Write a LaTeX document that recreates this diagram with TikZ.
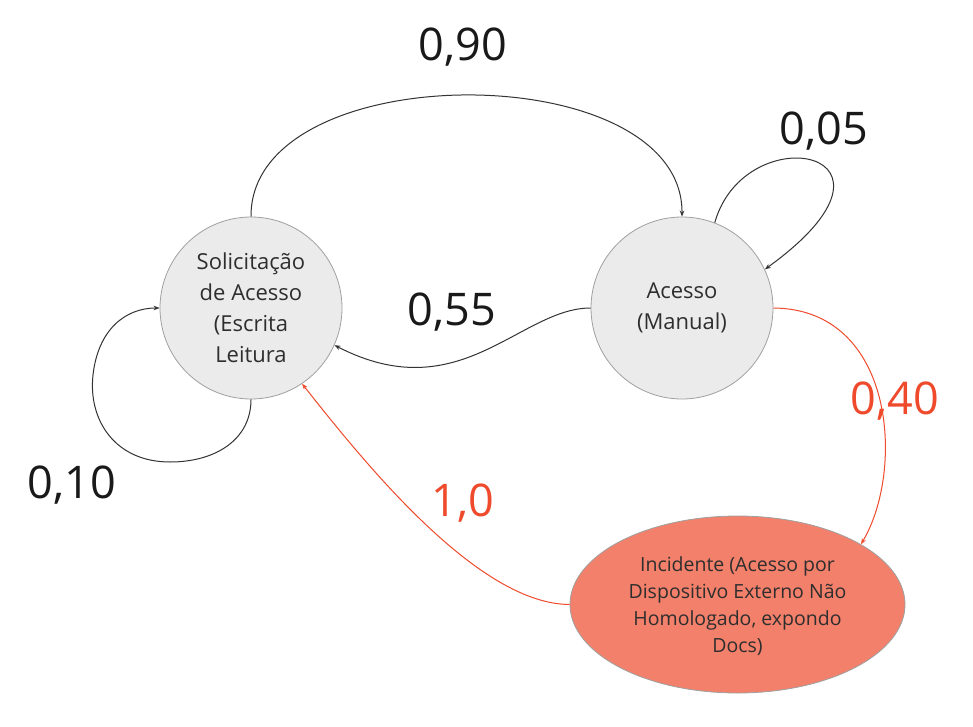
\documentclass[tikz,border=0pt]{standalone}
\usepackage{fontspec}
\setmainfont{Open Sans}
\usetikzlibrary{arrows.meta,shapes.geometric}
\definecolor{nodefill}{HTML}{EBEBEB}
\definecolor{nodeline}{HTML}{A0A0A0}
\definecolor{incfill}{HTML}{F3806A}
\definecolor{redline}{HTML}{EE4A2B}
\definecolor{txt}{HTML}{2E2E2E}
\definecolor{edgeblack}{HTML}{333333}
\tikzset{
  state/.style={circle, draw=nodeline, line width=0.8pt, fill=nodefill, minimum size=182pt, inner sep=0pt, align=center, text=txt, font=\fontsize{22}{31}\selectfont},
  incstate/.style={ellipse, draw=nodeline, line width=0.8pt, fill=incfill, minimum width=335pt, minimum height=177pt, inner sep=0pt},
  inctext/.style={align=center, text=txt, font=\fontsize{19.5}{27}\selectfont, inner sep=0pt},
  blackedge/.style={draw=edgeblack, line width=1pt, -{Stealth[length=6pt,width=4.5pt]}},
  rededge/.style={draw=redline, line width=1pt, -{Stealth[length=6pt,width=4.5pt]}},
  problabel/.style={font=\fontsize{45}{45}\selectfont, text=black!90, inner sep=0pt},
  redlabel/.style={problabel, text=redline}
}
\begin{document}
\begin{tikzpicture}[x=1pt,y=-1pt]
\useasboundingbox[fill=white] (0,0) rectangle (973,727);
\node[state] (sol) at (251,308) {Solicitação\\de Acesso\\(Escrita\\Leitura};
\node[state] (acc) at (682,308) {Acesso\\(Manual)};
\node[incstate] (inc) at (737.5,604.5) {};
\node[inctext] (inctxt) at (737.5,606) {Incidente (Acesso por\\Dispositivo Externo Não\\Homologado, expondo\\Docs)};

% 0,90
\draw[blackedge] (sol.north) .. controls (250,55) and (683,55) .. (acc.north);
% 0,05 self loop
\draw[blackedge] (acc.69) .. controls (745,115) and (930,150) .. (acc.25);
% 0,55
\draw[blackedge] (acc.west) .. controls (520,308) and (460,410) .. (sol.-24);
% 0,10 self loop
\draw[blackedge] (sol.south) .. controls (251,440) and (215,462) .. (170,462)
  .. controls (115,462) and (88,420) .. (93,375)
  .. controls (98,330) and (125,308) .. (sol.west);
% 0,40
\draw[rededge] (acc.east) .. controls (895,309) and (905,470) .. (inc.26);
% 1,0
\draw[rededge] (inc.west) .. controls (480,604) and (370,470) .. (sol.-56);

\node[problabel] (l90) at (463,47) {0,90};
\node[problabel] (l05) at (824,131) {0,05};
\node[problabel] (l55) at (452,312) {0,55};
\node[problabel] (l10) at (72,485) {0,10};
\node[redlabel] (l10r) at (463,503) {1,0};
\node[redlabel] (l40) at (895,401) {0,40};
\end{tikzpicture}
\end{document}
